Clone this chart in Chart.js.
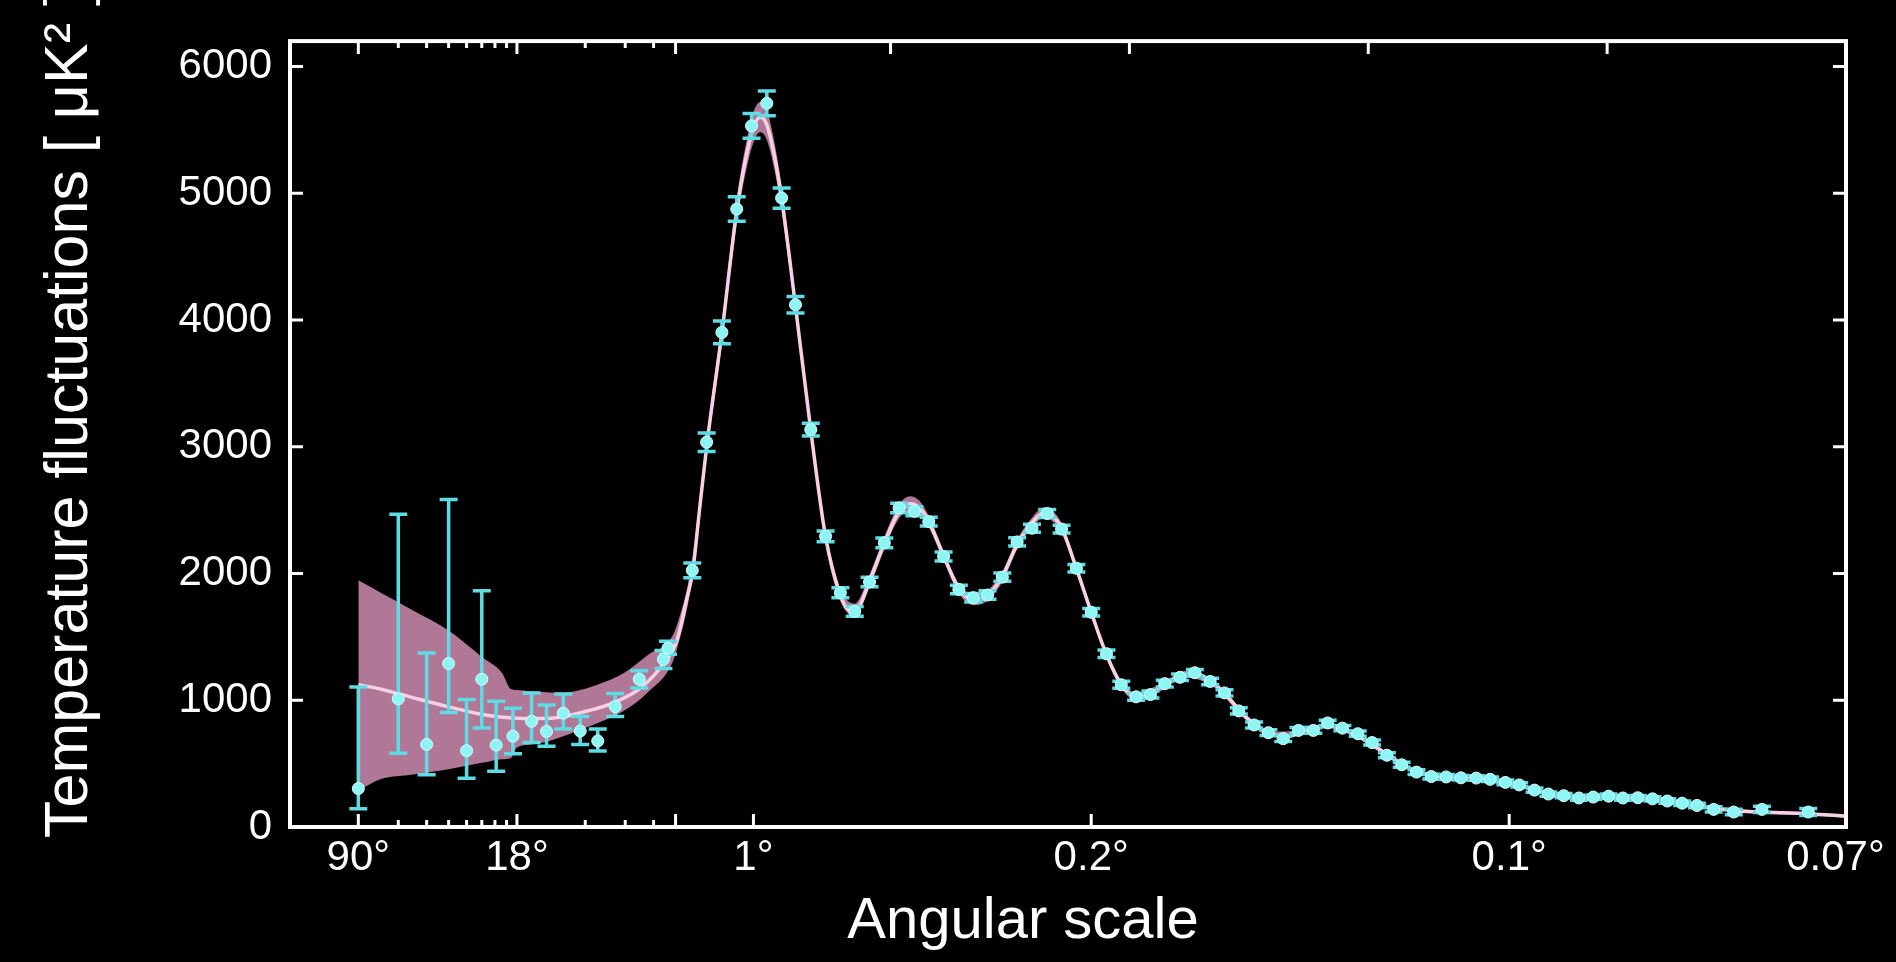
<!DOCTYPE html>
<html>
<head>
<meta charset="utf-8">
<script src="https://cdn.jsdelivr.net/npm/chart.js@4.4.1/dist/chart.umd.min.js"></script>
<style>
  html, body { margin: 0; padding: 0; background: #000; }
  #wrap { width: 1896px; height: 962px; }
</style>
</head>
<body>
<div id="wrap"><canvas id="cmb"></canvas></div>
<script>
// measured points: multipole l, D_l in uK^2, error bar up / down
const pointL = [2, 3, 4, 5, 6, 7, 8.1, 9.6, 11.6, 13.5, 16, 19, 22.7, 27.1, 34.6, 44.2, 46.3,
  85, 115, 147, 178, 209, 241, 272, 301, 333, 364, 395, 425, 456, 487, 518, 550, 580, 611, 643, 673,
  703, 734, 765, 796, 828, 858, 889, 920, 952, 983, 1014, 1044, 1074, 1106, 1137, 1169, 1199, 1229, 1261, 1291,
  1322, 1354, 1385, 1415, 1446, 1478, 1508, 1539, 1570, 1601, 1632, 1663, 1694, 1726, 1755, 1787, 1816, 1848, 1877, 1909,
  1941, 1971, 2003, 2033, 2064, 2095, 2126, 2157, 2188, 2223, 2265, 2324, 2421];
const pointD = [303, 1011, 651, 1289, 602, 1166, 646, 716, 834, 754, 898, 757, 679, 950, 1166, 1323, 1411,
  2025, 3036, 3902, 4875, 5531, 5709, 4962, 4120, 3135, 2293, 1848, 1701, 1933, 2242, 2517, 2491, 2409, 2134, 1874, 1809,
  1830, 1971, 2249, 2357, 2473, 2350, 2041, 1694, 1367, 1122, 1027, 1045, 1131, 1181, 1217, 1148, 1058, 916, 805, 744,
  697, 762, 762, 821, 780, 736, 666, 566, 491, 433, 398, 395, 388, 386, 376, 352, 332, 291, 260, 247,
  229, 236, 243, 229, 231, 222, 205, 188, 170, 139, 118, 139, 118];
const errPlus = [801, 1456, 721, 1294, 404, 697, 346, 221, 224, 209, 152, 115, 95, 103, 67, 69, 54,
  58, 73, 90, 97, 97, 97, 80, 65, 50, 42, 40, 38, 38, 38, 38, 36, 35, 35, 34, 33,
  33, 33, 32, 32, 32, 31, 30, 30, 29, 28, 27, 27, 27, 26, 26, 25, 25, 24, 23, 23,
  22, 22, 22, 22, 21, 21, 20, 20, 20, 19, 19, 19, 18, 18, 18, 18, 17, 17, 17, 17,
  17, 17, 17, 17, 17, 17, 17, 18, 18, 20, 22, 24, 28];
const errMinus = [159, 429, 239, 386, 218, 384, 206, 139, 168, 116, 124, 106, 79, 78, 70, 72, 49,
  58, 73, 90, 97, 97, 97, 80, 65, 50, 42, 40, 38, 38, 38, 38, 36, 35, 35, 34, 33,
  33, 33, 32, 32, 32, 31, 30, 30, 29, 28, 27, 27, 27, 26, 26, 25, 25, 24, 23, 23,
  22, 22, 22, 22, 21, 21, 20, 20, 20, 19, 19, 19, 18, 18, 18, 18, 17, 17, 17, 17,
  17, 17, 17, 17, 17, 17, 17, 18, 18, 20, 22, 24, 28];

// best-fit model curve
const modelL = [2, 2.5, 3.5, 5, 7, 9.6, 12.7, 16, 20.4, 26.6, 35, 44.3, 52.5, 73.5, 86, 100, 116, 147, 178, 200,
  215, 227, 240, 255, 272, 301, 333, 364, 395, 415, 430, 455, 487, 518, 541, 560, 580, 611, 643, 675,
  692, 703, 734, 765, 796, 821, 840, 858, 889, 920, 951, 983, 1014, 1035, 1060, 1090, 1120, 1137, 1155, 1180,
  1210, 1240, 1270, 1300, 1330, 1360, 1390, 1415, 1440, 1470, 1500, 1540, 1570, 1600, 1632, 1663, 1694, 1726, 1755, 1787,
  1816, 1848, 1877, 1909, 1941, 1971, 2003, 2033, 2064, 2095, 2126, 2157, 2188, 2223, 2265, 2324, 2421, 2500];
const modelD = [1122, 1089, 1019, 948, 889, 859, 855, 870, 915, 980, 1096, 1290, 1470, 1800, 2020, 2500, 3030, 3900, 4860, 5330,
  5540, 5600, 5550, 5330, 4960, 4110, 3130, 2290, 1830, 1710, 1720, 1930, 2240, 2490, 2550, 2520, 2410, 2140, 1880, 1790,
  1800, 1825, 1975, 2230, 2400, 2480, 2450, 2360, 2040, 1695, 1370, 1125, 1030, 1035, 1090, 1160, 1205, 1215, 1190, 1120,
  1010, 880, 785, 730, 715, 745, 785, 800, 780, 735, 670, 570, 495, 440, 405, 392, 387, 383, 374, 352,
  330, 294, 264, 247, 236, 234, 236, 232, 228, 220, 206, 188, 170, 148, 128, 118, 105, 85];

// shaded uncertainty band around the model
const bandL = [2, 2.5, 3.5, 5, 7, 8.6, 9.4, 10, 11.4, 13.5, 16, 18, 22.6, 29.5, 37.6, 48.5, 60, 75, 90, 116,
  147, 178, 200, 215, 227, 240, 255, 272, 301, 333, 364, 395, 425, 455, 487, 518, 541, 560, 580, 611,
  643, 675, 703, 734, 765, 796, 821, 858, 889, 920, 951, 983, 1014, 1060, 1120, 1180, 1240, 1300, 1360, 1415,
  1470, 1540, 1600, 1700, 1800, 1900, 2000, 2100, 2200, 2300, 2400, 2500];
const bandHi = [1946, 1850, 1706, 1550, 1342, 1215, 1088, 1080, 1071, 1064, 1058, 1070, 1122, 1212, 1354, 1508, 1680, 1900, 2240, 3110,
  3990, 4960, 5440, 5660, 5720, 5670, 5440, 5060, 4190, 3200, 2350, 1880, 1762, 1980, 2290, 2545, 2610, 2575, 2455, 2180,
  1920, 1830, 1865, 2015, 2270, 2440, 2520, 2400, 2075, 1730, 1400, 1155, 1058, 1118, 1232, 1145, 903, 752, 765, 820,
  755, 590, 458, 402, 358, 268, 250, 232, 177, 135, 120, 97];
const bandLo = [286, 376, 414, 455, 506, 535, 545, 628, 648, 672, 715, 752, 818, 915, 1060, 1300, 1500, 1740, 2075, 2950,
  3810, 4760, 5220, 5420, 5480, 5430, 5220, 4860, 4030, 3060, 2230, 1780, 1662, 1880, 2190, 2435, 2490, 2465, 2365, 2100,
  1840, 1750, 1785, 1935, 2190, 2360, 2440, 2320, 2005, 1660, 1340, 1095, 1002, 1062, 1178, 1095, 857, 708, 725, 780,
  715, 550, 422, 370, 326, 236, 222, 204, 149, 109, 96, 73];

// axis ticks
const xTickL = [2, 10, 213, 920, 1795, 2478];
const xTickLabels = ['90°', '18°', '1°', '0.2°', '0.1°', '0.07°'];
const bottomMajorL = [2, 10, 50, 213, 920, 1795];
const topMajorL = [2, 10, 50, 500, 1000, 1500, 2000];
const minorL = [3, 4, 5, 6, 7, 8, 9, 20, 30, 40];
const yTicks = [0, 1000, 2000, 3000, 4000, 5000, 6000];

const FONT = "'Liberation Sans', Arial, Helvetica, sans-serif";

// log in l up to the break, linear after it
class HybridScale extends Chart.Scale {
  static id = 'hybrid';
  static defaults = {};
  determineDataLimits() {
    this.min = this.options.min;
    this.max = this.options.max;
  }
  buildTicks() {
    return xTickL.map(v => ({ value: v }));
  }
  getLabelForValue(v) { return String(v); }
  getPixelForValue(v) {
    const o = this.options;
    let d;
    if (v <= o.breakAt) d = o.logFraction * Math.log(v / o.min) / Math.log(o.breakAt / o.min);
    else d = o.logFraction + (1 - o.logFraction) * (v - o.breakAt) / (o.max - o.breakAt);
    return this.getPixelForDecimal(d);
  }
  getValueForPixel(p) {
    const o = this.options;
    const d = this.getDecimalForPixel(p);
    if (d <= o.logFraction) return o.min * Math.pow(o.breakAt / o.min, d / o.logFraction);
    return o.breakAt + (d - o.logFraction) / (1 - o.logFraction) * (o.max - o.breakAt);
  }
}
Chart.register(HybridScale);

const background = {
  id: 'background',
  beforeDraw(chart) {
    const ctx = chart.ctx;
    ctx.save();
    ctx.fillStyle = '#000';
    ctx.fillRect(0, 0, chart.width, chart.height);
    ctx.restore();
  }
};

const errorBars = {
  id: 'errorBars',
  beforeDatasetDraw(chart, args) {
    if (args.index !== 0) return;
    const { ctx, chartArea: a, scales: { x, y } } = chart;
    ctx.save();
    ctx.beginPath();
    ctx.rect(a.left, a.top, a.right - a.left, a.bottom - a.top);
    ctx.clip();
    ctx.strokeStyle = '#5fdbe4';
    ctx.lineWidth = 3.5;
    pointL.forEach((l, i) => {
      const px = x.getPixelForValue(l);
      const top = y.getPixelForValue(pointD[i] + errPlus[i]);
      const bot = y.getPixelForValue(pointD[i] - errMinus[i]);
      ctx.beginPath();
      ctx.moveTo(px, top); ctx.lineTo(px, bot);
      ctx.moveTo(px - 9, top); ctx.lineTo(px + 9, top);
      ctx.moveTo(px - 9, bot); ctx.lineTo(px + 9, bot);
      ctx.stroke();
    });
    ctx.restore();
  }
};

const frame = {
  id: 'frame',
  afterDraw(chart) {
    const { ctx, chartArea: a, scales: { x, y } } = chart;
    ctx.save();
    ctx.strokeStyle = '#fff';
    ctx.lineWidth = 4;
    ctx.strokeRect(a.left, a.top, a.right - a.left, a.bottom - a.top);
    ctx.lineWidth = 3;
    ctx.beginPath();
    yTicks.forEach(v => {
      const py = y.getPixelForValue(v);
      ctx.moveTo(a.left, py); ctx.lineTo(a.left + 13, py);
      ctx.moveTo(a.right, py); ctx.lineTo(a.right - 13, py);
    });
    bottomMajorL.forEach(l => {
      const px = x.getPixelForValue(l);
      ctx.moveTo(px, a.bottom); ctx.lineTo(px, a.bottom - 13);
    });
    topMajorL.forEach(l => {
      const px = x.getPixelForValue(l);
      ctx.moveTo(px, a.top); ctx.lineTo(px, a.top + 13);
    });
    minorL.forEach(l => {
      const px = x.getPixelForValue(l);
      ctx.moveTo(px, a.bottom); ctx.lineTo(px, a.bottom - 7);
      ctx.moveTo(px, a.top); ctx.lineTo(px, a.top + 7);
    });
    ctx.stroke();

    // axis titles
    ctx.fillStyle = '#fff';
    ctx.font = '58px ' + FONT;
    ctx.textAlign = 'center';
    ctx.textBaseline = 'alphabetic';
    ctx.fillText('Angular scale', 1023, 938);

    ctx.translate(87, 838);
    ctx.rotate(-Math.PI / 2);
    ctx.font = '61px ' + FONT;
    ctx.textAlign = 'left';
    ctx.fillText('Temperature fluctuations [ μK² ]', 0, 0);
    ctx.restore();
  }
};

const pts = (ls, ds) => ls.map((l, i) => ({ x: l, y: ds[i] }));

new Chart(document.getElementById('cmb'), {
  type: 'line',
  data: {
    datasets: [
      {
        label: 'Planck data',
        data: pts(pointL, pointD),
        showLine: false,
        pointRadius: 6,
        pointBackgroundColor: '#8ef5f5',
        pointBorderColor: '#d6ffff',
        pointBorderWidth: 1
      },
      {
        label: 'Model',
        data: pts(modelL, modelD),
        borderColor: '#f7d0e3',
        borderWidth: 3.5,
        pointRadius: 0,
        cubicInterpolationMode: 'monotone',
        fill: false
      },
      {
        label: 'Band upper',
        data: pts(bandL, bandHi),
        borderWidth: 0,
        borderColor: 'rgba(0,0,0,0)',
        pointRadius: 0,
        cubicInterpolationMode: 'monotone',
        backgroundColor: '#b07796',
        fill: '+1'
      },
      {
        label: 'Band lower',
        data: pts(bandL, bandLo),
        borderWidth: 0,
        borderColor: 'rgba(0,0,0,0)',
        pointRadius: 0,
        cubicInterpolationMode: 'monotone',
        fill: false
      }
    ]
  },
  options: {
    responsive: true,
    maintainAspectRatio: false,
    animation: false,
    layout: { padding: { left: 0, right: 50, top: 24, bottom: 0 } },
    plugins: { legend: { display: false }, tooltip: { enabled: false } },
    scales: {
      x: {
        type: 'hybrid',
        min: 1,
        max: 2500,
        breakAt: 50,
        logFraction: 0.2478,
        grid: { display: false, drawTicks: false },
        border: { display: false },
        ticks: {
          color: '#fff',
          font: { family: FONT, size: 42 },
          padding: 6,
          autoSkip: false,
          maxRotation: 0,
          callback: (v, i) => xTickLabels[i]
        },
        afterFit(s) { s.height = 135; }
      },
      y: {
        min: 0,
        max: 6200,
        grid: { display: false, drawTicks: false },
        border: { display: false },
        ticks: {
          color: '#fff',
          font: { family: FONT, size: 42, lineHeight: 1.1 },
          padding: 18,
          callback: v => String(v)
        },
        afterBuildTicks(s) { s.ticks = yTicks.map(v => ({ value: v })); },
        afterFit(s) { s.width = 290; }
      }
    }
  },
  plugins: [background, errorBars, frame]
});
</script>
</body>
</html>
